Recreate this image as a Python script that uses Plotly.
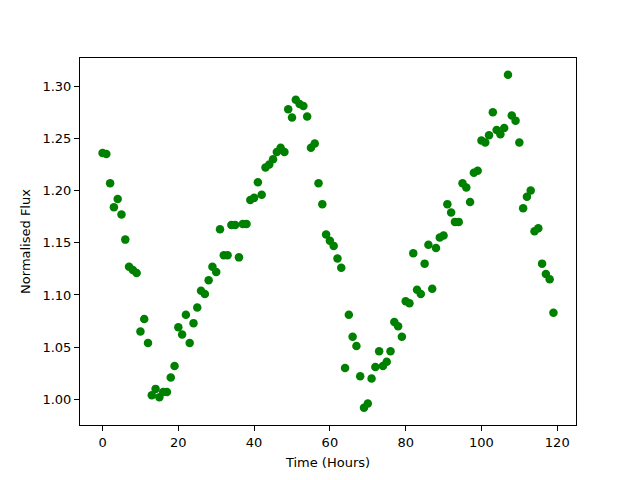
import plotly.graph_objects as go

hours = list(range(120))
flux = [
    1.236, 1.235, 1.207, 1.184, 1.192, 1.177, 1.153, 1.127, 1.124, 1.121,
    1.065, 1.077, 1.054, 1.004, 1.010, 1.002, 1.007, 1.007, 1.021, 1.032,
    1.069, 1.062, 1.081, 1.054, 1.073, 1.088, 1.104, 1.101, 1.114, 1.127,
    1.122, 1.163, 1.138, 1.138, 1.167, 1.167, 1.136, 1.168, 1.168, 1.191,
    1.193, 1.208, 1.196, 1.222, 1.225, 1.230, 1.237, 1.241, 1.237, 1.278,
    1.270, 1.287, 1.283, 1.281, 1.271, 1.241, 1.245, 1.207, 1.187, 1.158,
    1.152, 1.147, 1.135, 1.126, 1.030, 1.081, 1.060, 1.051, 1.022, 0.992,
    0.996, 1.020, 1.031, 1.046, 1.032, 1.036, 1.046, 1.074, 1.070, 1.060,
    1.094, 1.092, 1.140, 1.105, 1.101, 1.130, 1.148, 1.106, 1.145, 1.155,
    1.157, 1.187, 1.179, 1.170, 1.170, 1.207, 1.203, 1.189, 1.217, 1.219,
    1.248, 1.246, 1.253, 1.275, 1.258, 1.254, 1.260, 1.311, 1.272, 1.267,
    1.246, 1.183, 1.194, 1.200, 1.161, 1.164, 1.130, 1.120, 1.115, 1.083,
]

x_ticks = [0, 20, 40, 60, 80, 100, 120]
y_ticks = [1.00, 1.05, 1.10, 1.15, 1.20, 1.25, 1.30]

fig = go.Figure(go.Scatter(
    x=hours, y=flux, mode="markers",
    marker=dict(color="#008000", size=8.5, line=dict(width=0)),
))

font = dict(family="DejaVu Sans", size=13, color="black")
axis_common = dict(
    showgrid=False, zeroline=False, showline=True, linecolor="black",
    linewidth=1, mirror=True, ticks="outside", ticklen=5, tickcolor="black",
    tickwidth=1, tickfont=font,
)

fig.update_layout(
    width=640, height=480,
    margin=dict(l=80, r=64, t=58, b=53),
    paper_bgcolor="white", plot_bgcolor="white",
    showlegend=False, font=font,
    xaxis=dict(range=[-5.95, 124.95], tickvals=x_ticks,
               title=dict(text="Time (Hours)", font=font, standoff=9),
               **axis_common),
    yaxis=dict(range=[0.9754, 1.327], tickvals=y_ticks, tickformat=".2f",
               title=dict(text="Normalised Flux", font=font, standoff=8),
               **axis_common),
)

fig.write_html("out.html", config={"displayModeBar": False},
               post_script="document.body.style.margin='0';")
